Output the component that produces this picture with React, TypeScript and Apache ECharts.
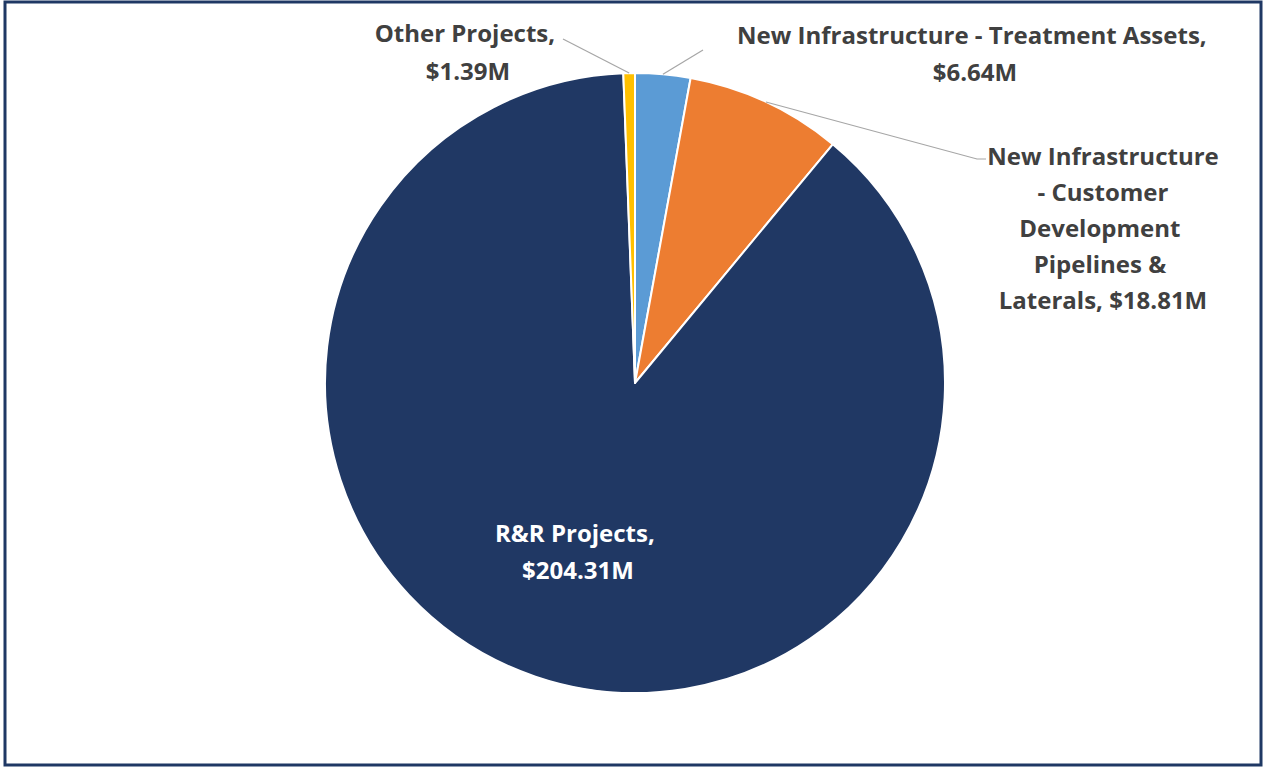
import React, { useEffect, useRef } from "react";
import * as echarts from "echarts";

const categories = [
  "New Infrastructure - Treatment Assets",
  "New Infrastructure - Customer Development Pipelines & Laterals",
  "R&R Projects",
  "Other Projects",
];
const values = [6.64, 18.81, 204.31, 1.39];
const colors = ["#5B9BD5", "#ED7D31", "#203864", "#FFC000"];

// layout (not data)
const CX = 635;
const CY = 383;
const R = 310;
const labelWidths = [490, 234, 200, 200];
const labelLineHeights = [37, 36, 37, 38];
const labelPos = [
  { x: 975, y: 53 },
  { x: 1103, y: 227 },
  { x: 578, y: 551 },
  { x: 468, y: 51 },
];
// label-side end points of leader lines (null = no leader line)
const leaderEnds: (number[][] | null)[] = [
  [[703, 50]],
  [[977, 159], [986, 159]],
  null,
  [[563, 39]],
];

export default function App() {
  const ref = useRef<HTMLDivElement>(null);
  useEffect(() => {
    if (!ref.current) return;
    const chart = echarts.init(ref.current, undefined, { renderer: "svg" });
    const font = "'Open Sans', sans-serif";
    const total = values.reduce((a, b) => a + b, 0);
    let acc = 0;
    const leaders: any[] = [];
    values.forEach((v, i) => {
      const mid = ((acc + v / 2) / total) * Math.PI * 2;
      acc += v;
      const ends = leaderEnds[i];
      if (!ends) return;
      const start = [CX + R * Math.sin(mid), CY - R * Math.cos(mid)];
      leaders.push({
        type: "polyline",
        shape: { points: [start, ...ends] },
        style: { stroke: "#A6A6A6", lineWidth: 1.2, fill: "none" },
        silent: true,
        z: 10,
      });
    });
    chart.setOption({
      animation: false,
      backgroundColor: "#ffffff",
      graphic: [
        {
          type: "rect",
          shape: { x: 5, y: 2, width: 1256, height: 763 },
          style: { fill: "none", stroke: "#1F3864", lineWidth: 3 },
          silent: true,
        },
        ...leaders,
      ],
      series: [
        {
          type: "pie",
          center: [CX, CY],
          radius: R,
          startAngle: 90,
          clockwise: true,
          avoidLabelOverlap: false,
          itemStyle: { borderColor: "#ffffff", borderWidth: 2 },
          label: {
            show: true,
            position: "outside",
            fontFamily: font,
            fontWeight: 700,
            fontSize: 24,
            lineHeight: 37,
            color: "#404040",
            align: "center",
            overflow: "break",
            formatter: (p: any) => `${p.name}, $${p.value.toFixed(2)}M`,
          },
          labelLine: { show: false },
          labelLayout: (p: any) => ({
            x: labelPos[p.dataIndex].x,
            y: labelPos[p.dataIndex].y,
            align: "center",
            verticalAlign: "middle",
          }),
          data: categories.map((c, i) => ({
            name: c,
            value: values[i],
            itemStyle: { color: colors[i] },
            label:
              i === 2
                ? {
                    position: "inside",
                    color: "#ffffff",
                    width: labelWidths[i],
                    lineHeight: labelLineHeights[i],
                  }
                : { width: labelWidths[i], lineHeight: labelLineHeights[i] },
          })),
        },
      ],
    });
    return () => chart.dispose();
  }, []);
  return (
    <div
      ref={ref}
      style={{ position: "fixed", left: 0, top: 0, width: 1264, height: 768 }}
    />
  );
}
